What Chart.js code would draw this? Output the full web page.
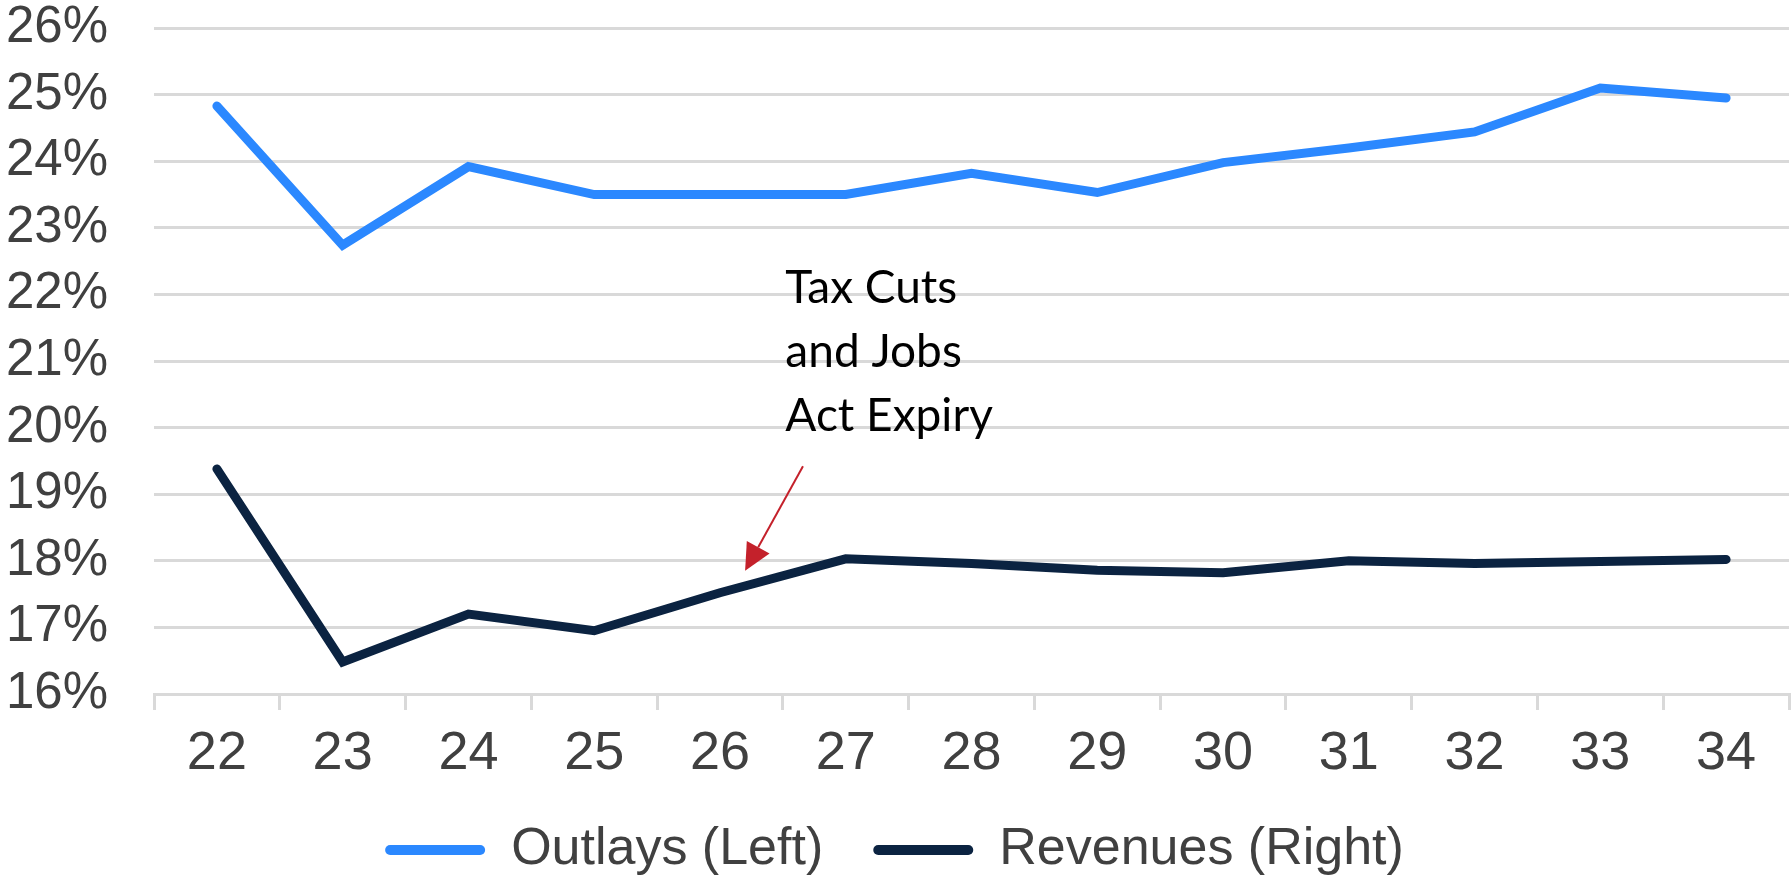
<!DOCTYPE html>
<html>
<head>
<meta charset="utf-8">
<script src="https://cdn.jsdelivr.net/npm/chart.js@4.4.1/dist/chart.umd.min.js"></script>
<style>
  html, body { margin: 0; padding: 0; background: #fff; }
  #wrap { width: 1791px; height: 886px; }
</style>
</head>
<body>
<div id="wrap"><canvas id="chart"></canvas></div>
<script>
// fiscal years (20xx) and shares of GDP
const years = ['22', '23', '24', '25', '26', '27', '28', '29', '30', '31', '32', '33', '34'];
const outlays = [24.83, 22.74, 23.92, 23.5, 23.5, 23.5, 23.82, 23.53, 23.98, 24.2, 24.44, 25.1, 24.95];
const revenues = [19.38, 16.48, 17.2, 16.95, 17.52, 18.03, 17.96, 17.86, 17.82, 18.0, 17.96, 17.99, 18.02];
const yMin = 16, yMax = 26, yStep = 1;
const noteLines = ['Tax Cuts', 'and Jobs', 'Act Expiry'];

const grey = '#d9d9d9';
const textGrey = '#404040';
const sans = "'Liberation Sans', Arial, sans-serif";

// red arrow + label pointing at the revenue line
const taxNote = {
  id: 'taxNote',
  afterDatasetsDraw(chart) {
    const { ctx, scales: { x, y } } = chart;
    ctx.save();
    const x0 = x.getPixelForValue(4.66), y0 = y.getPixelForValue(19.42);
    const x1 = x.getPixelForValue(4.2), y1 = y.getPixelForValue(17.85);
    const a = Math.atan2(y1 - y0, x1 - x0);
    const head = 27, half = 13;
    const bx = x1 - head * Math.cos(a), by = y1 - head * Math.sin(a);
    ctx.strokeStyle = '#c4212b';
    ctx.fillStyle = '#c4212b';
    ctx.lineWidth = 2;
    ctx.beginPath();
    ctx.moveTo(x0, y0);
    ctx.lineTo(bx, by);
    ctx.stroke();
    ctx.beginPath();
    ctx.moveTo(x1, y1);
    ctx.lineTo(bx + half * Math.sin(a), by - half * Math.cos(a));
    ctx.lineTo(bx - half * Math.sin(a), by + half * Math.cos(a));
    ctx.closePath();
    ctx.fill();

    ctx.fillStyle = '#000';
    ctx.font = '46px Lato, sans-serif';
    ctx.textAlign = 'left';
    ctx.textBaseline = 'alphabetic';
    const tx = x.getPixelForValue(4.52);
    const ty = y.getPixelForValue(21.87);
    noteLines.forEach((t, i) => ctx.fillText(t, tx, ty + i * 64));
    ctx.restore();
  }
};

new Chart(document.getElementById('chart'), {
  type: 'line',
  data: {
    labels: years,
    datasets: [
      {
        label: 'Outlays (Left)',
        data: outlays,
        borderColor: '#2b88ff',
        backgroundColor: '#2b88ff',
        borderWidth: 9,
        borderCapStyle: 'round',
        pointRadius: 0,
        tension: 0
      },
      {
        label: 'Revenues (Right)',
        data: revenues,
        borderColor: '#0b2341',
        backgroundColor: '#0b2341',
        borderWidth: 9,
        borderCapStyle: 'round',
        pointRadius: 0,
        tension: 0
      }
    ]
  },
  options: {
    responsive: true,
    maintainAspectRatio: false,
    animation: false,
    layout: { padding: { left: 0, right: 2, top: 0, bottom: 0 } },
    plugins: {
      tooltip: { enabled: false },
      legend: {
        position: 'bottom',
        labels: {
          font: { family: sans, size: 52 },
          color: textGrey,
          boxWidth: 100,
          boxHeight: 10,
          padding: 50,
          useBorderRadius: true,
          borderRadius: 5,
          generateLabels(chart) {
            return Chart.defaults.plugins.legend.labels.generateLabels(chart)
              .map(item => ({ ...item, lineWidth: 0, fillStyle: item.strokeStyle }));
          }
        }
      }
    },
    scales: {
      x: {
        offset: true,
        grid: { offset: true, drawOnChartArea: false, color: grey, lineWidth: 3, tickLength: 16 },
        border: { color: grey, width: 3 },
        ticks: { color: textGrey, font: { family: sans, size: 54 }, padding: 12 },
        afterFit(scale) { scale.height = 80; }
      },
      y: {
        min: yMin,
        max: yMax,
        // invisible ticks give the gap between labels and plot
        grid: { color: grey, lineWidth: 3, tickLength: 46, tickColor: 'rgba(0,0,0,0)' },
        border: { display: false },
        ticks: {
          stepSize: yStep,
          autoSkip: false,
          color: textGrey,
          font: { family: sans, size: 51, lineHeight: 1.1 },
          padding: 0,
          callback: v => v + '%'
        },
        afterFit(scale) { scale.width = 154; }
      }
    }
  },
  plugins: [taxNote]
});
</script>
</body>
</html>
